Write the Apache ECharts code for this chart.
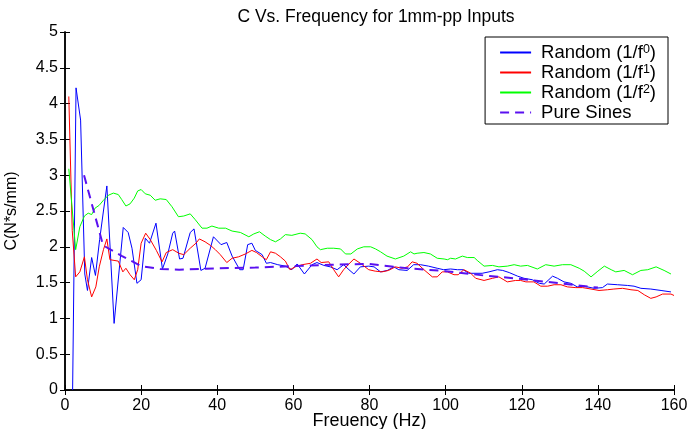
<!DOCTYPE html>
<html><head><meta charset="utf-8">
<script src="https://cdn.jsdelivr.net/npm/echarts@6/dist/echarts.min.js"></script>
<style>html,body{margin:0;padding:0;background:#fff}#c{width:689px;height:429px}</style>
</head><body><div id="c"></div>
<script>
const titleText = 'C Vs. Frequency for 1mm-pp Inputs';
const xName = 'Freuency (Hz)';
const yName = 'C(N*s/mm)';
const seriesNames = ['Random (1/f0)', 'Random (1/f1)', 'Random (1/f2)', 'Pure Sines'];
const legendBase = ['Random (1/f', 'Random (1/f', 'Random (1/f', 'Pure Sines'];
const legendSup = ['0', '1', '2', ''];
const xTicks = { min: 0, max: 160, interval: 20 };
const yTicks = { min: 0, max: 5, interval: 0.5 };

// [frequency (Hz), C]
const random0 = [[2.0,0],[2.9,4.22],[4.1,3.77],[5.2,1.62],[5.9,1.39],[7.0,1.85],[8.0,1.60],[9.1,2.1],[10.1,2.5],[11.0,2.85],[12.9,0.93],[15.3,2.27],[16.6,2.2],[17.6,1.98],[18.9,1.49],[20.0,1.54],[21.1,2.12],[22.2,2.05],[23.9,2.33],[25.6,1.69],[27.0,1.9],[28.3,2.19],[28.8,2.22],[30.1,1.83],[31.0,1.84],[32.9,2.2],[33.9,2.25],[35.7,1.67],[36.8,1.7],[39.0,2.14],[41.0,2.03],[42.5,2.06],[43.9,1.87],[45.9,1.68],[46.8,1.68],[48.0,2.03],[49.1,2.05],[50.0,1.95],[51.8,1.89],[52.9,1.77],[54.0,1.78],[55.9,1.75],[57.9,1.73],[59.6,1.68],[61.0,1.76],[62.9,1.62],[64.9,1.75],[66.2,1.78],[68.0,1.74],[69.7,1.72],[71.5,1.68],[73.2,1.75],[74.6,1.68],[75.9,1.62],[77.6,1.72],[79.8,1.73],[81.2,1.72],[82.9,1.65],[84.7,1.67],[86.4,1.72],[87.7,1.68],[89.9,1.67],[91.6,1.75],[93.4,1.75],[95.5,1.73],[97.8,1.70],[99.5,1.68],[101.3,1.69],[103.1,1.68],[104.6,1.68],[106.1,1.63],[109.6,1.63],[111.4,1.65],[113.6,1.68],[115.0,1.67],[116.7,1.64],[118.9,1.59],[120.6,1.56],[122.8,1.54],[124.6,1.49],[125.9,1.48],[128.1,1.59],[129.4,1.56],[131.1,1.51],[132.9,1.49],[134.6,1.44],[136.4,1.45],[139.0,1.42],[141.2,1.43],[142.5,1.48],[145.2,1.47],[147.8,1.46],[149.5,1.45],[151.3,1.42],[153.9,1.41],[156.6,1.39],[159.2,1.37]];

const random1 = [[1.0,4.1],[1.9,2.23],[2.8,1.58],[3.9,1.65],[5.1,1.86],[5.9,1.54],[7.0,1.30],[8.1,1.44],[9.0,1.72],[10.1,1.96],[11.0,2.11],[11.8,1.82],[14.0,1.80],[15.2,1.65],[16.0,1.70],[17.1,1.61],[18.2,1.54],[19.1,1.68],[20.0,2.05],[21.2,2.19],[22.4,2.10],[24.0,1.95],[25.5,1.79],[26.6,1.92],[28.3,1.96],[29.9,1.91],[31.2,1.89],[32.9,1.98],[34.4,2.05],[35.3,2.11],[36.8,2.07],[38.2,2.02],[39.5,1.96],[40.8,1.89],[42.5,1.78],[43.9,1.84],[45.6,1.86],[47.4,1.90],[49.1,1.95],[50.3,1.92],[51.8,1.86],[52.9,1.82],[54.0,1.93],[55.3,1.91],[56.6,1.86],[57.9,1.80],[59.1,1.68],[60.5,1.72],[62.3,1.75],[64.5,1.77],[66.2,1.83],[67.3,1.78],[69.3,1.79],[70.6,1.68],[71.9,1.58],[73.2,1.68],[74.6,1.76],[75.9,1.83],[77.6,1.77],[79.8,1.68],[81.5,1.66],[83.3,1.65],[85.0,1.67],[86.8,1.72],[88.6,1.70],[90.0,1.72],[91.2,1.79],[92.5,1.77],[94.3,1.68],[96.5,1.58],[97.8,1.58],[99.1,1.65],[100.5,1.65],[102.2,1.61],[103.3,1.61],[104.8,1.68],[106.6,1.63],[107.9,1.56],[110.1,1.53],[112.3,1.56],[114.0,1.58],[116.2,1.51],[118.4,1.53],[119.7,1.53],[121.1,1.51],[123.2,1.51],[125.0,1.45],[126.8,1.45],[128.5,1.47],[130.3,1.47],[132.0,1.44],[134.2,1.43],[136.0,1.43],[138.2,1.41],[140.3,1.39],[142.5,1.40],[144.2,1.41],[146.5,1.42],[148.7,1.40],[150.5,1.39],[152.2,1.33],[153.9,1.28],[155.3,1.30],[157.0,1.34],[159.2,1.34],[160.0,1.32]];

const random2 = [[1.0,3.09],[2.8,1.96],[3.9,2.28],[5.1,2.43],[6.1,2.47],[7.0,2.45],[7.9,2.54],[9.0,2.58],[10.1,2.65],[11.4,2.72],[12.7,2.75],[14.0,2.73],[14.9,2.66],[16.0,2.57],[17.1,2.60],[18.2,2.68],[19.1,2.78],[20.0,2.80],[21.1,2.74],[22.4,2.72],[23.7,2.65],[25.0,2.67],[26.6,2.66],[28.1,2.56],[29.8,2.42],[31.2,2.43],[32.9,2.46],[34.2,2.38],[36.0,2.26],[37.3,2.26],[38.6,2.29],[40.4,2.26],[42.2,2.26],[43.9,2.22],[46.1,2.20],[48.3,2.14],[49.6,2.18],[51.1,2.21],[52.6,2.15],[54.0,2.10],[55.3,2.07],[56.6,2.11],[57.9,2.17],[59.6,2.16],[61.8,2.19],[63.1,2.18],[64.9,2.10],[66.2,2.00],[67.1,1.96],[68.9,1.98],[70.6,1.98],[72.4,1.97],[73.7,1.90],[75.1,1.90],[76.8,1.97],[78.5,2.00],[80.3,2.00],[81.6,1.97],[82.9,1.93],[84.6,1.87],[86.8,1.83],[89.0,1.87],[90.8,1.93],[91.7,1.90],[92.5,1.91],[94.3,1.92],[96.0,1.90],[97.8,1.84],[99.6,1.83],[100.5,1.82],[101.3,1.84],[102.6,1.83],[104.4,1.87],[105.7,1.85],[107.5,1.85],[108.3,1.81],[110.1,1.73],[112.3,1.74],[114.0,1.72],[116.2,1.73],[118.0,1.75],[119.7,1.73],[121.5,1.74],[124.1,1.69],[126.3,1.75],[128.5,1.73],[130.7,1.75],[132.9,1.75],[135.1,1.70],[136.4,1.66],[138.2,1.58],[140.0,1.66],[141.7,1.73],[143.5,1.68],[144.7,1.65],[146.9,1.67],[149.1,1.61],[151.3,1.67],[153.1,1.68],[155.3,1.72],[157.4,1.67],[159.2,1.62]];

const pureSines = [[5,3.0],[10,2.02],[15,1.87],[20,1.73],[25,1.69],[30,1.68],[40,1.70],[50,1.71],[60,1.73],[70,1.75],[80,1.76],[90,1.70],[100,1.66],[110,1.60],[120,1.55],[130,1.49],[140,1.43]];

const seriesData = [random0, random1, random2, pureSines];
const colors = ['#0000ff', '#ff0000', '#00ff00', '#5a10f0'];
const FONT = 'Liberation Sans';

const chart = echarts.init(document.getElementById('c'), null, { renderer: 'canvas' });
const axisCommon = {
  axisLine: { lineStyle: { color: '#000', width: 1.5 } },
  axisTick: { inside: true, length: 5, lineStyle: { color: '#000', width: 1 } },
  splitLine: { show: false },
  axisLabel: { color: '#000', fontFamily: FONT, fontSize: 16 }
};
chart.setOption({
  animation: false,
  backgroundColor: '#fff',
  title: {
    text: titleText, left: 371, top: 3, textAlign: 'center',
    textStyle: { fontFamily: FONT, fontSize: 17.5, fontWeight: 'normal', color: '#000' }
  },
  grid: { left: 65, right: 15, top: 32, bottom: 39, outerBoundsMode: 'none', containLabel: false },
  legend: {
    orient: 'vertical', right: 21, top: 37,
    data: seriesNames,
    itemWidth: 31, itemHeight: 14, itemGap: 1,
    padding: [6, 12, 2, 14],
    borderColor: '#000', borderWidth: 1, backgroundColor: '#fff',
    itemStyle: { opacity: 0 },
    formatter: function (name) {
      const i = seriesNames.indexOf(name);
      if (legendSup[i]) return '{g| }{a|' + legendBase[i] + '}{s|' + legendSup[i] + '}{a|)}';
      return '{g| }{a|' + legendBase[i] + '}';
    },
    textStyle: {
      color: '#000', fontFamily: FONT, fontSize: 18.5, lineHeight: 18,
      rich: {
        g: { width: 5, lineHeight: 18, fontSize: 12 },
        a: { fontFamily: FONT, fontSize: 18.5, lineHeight: 18, color: '#000' },
        s: { fontFamily: FONT, fontSize: 12.5, lineHeight: 12, verticalAlign: 'top', color: '#000' }
      }
    }
  },
  xAxis: [
    Object.assign({}, axisCommon, {
      type: 'value', position: 'bottom', min: xTicks.min, max: xTicks.max, interval: xTicks.interval,
      name: xName, nameLocation: 'middle', nameGap: 22, nameMoveOverlap: false,
      nameTextStyle: { fontFamily: FONT, fontSize: 18, color: '#000' },
      axisLabel: { color: '#000', fontFamily: FONT, fontSize: 16, margin: 8 }
    }),
    Object.assign({}, axisCommon, {
      type: 'value', position: 'top', min: xTicks.min, max: xTicks.max, interval: xTicks.interval,
      axisLabel: { show: false }
    })
  ],
  yAxis: [
    Object.assign({}, axisCommon, {
      type: 'value', position: 'left', min: yTicks.min, max: yTicks.max, interval: yTicks.interval,
      name: yName, nameLocation: 'middle', nameGap: 45, nameMoveOverlap: false,
      nameTextStyle: { fontFamily: FONT, fontSize: 16, color: '#000' },
      axisLabel: { color: '#000', fontFamily: FONT, fontSize: 16, margin: 7 }
    }),
    Object.assign({}, axisCommon, {
      type: 'value', position: 'right', min: yTicks.min, max: yTicks.max, interval: yTicks.interval,
      axisLabel: { show: false }
    })
  ],
  series: seriesData.map(function (d, i) {
    return {
      name: seriesNames[i], type: 'line', data: d, xAxisIndex: 0, yAxisIndex: 0,
      symbol: 'none', z: i === 3 ? 5 : 2 + i,
      lineStyle: i === 3 ? { color: colors[i], width: 2, type: [9, 6] } : { color: colors[i], width: 1 },
      itemStyle: { color: colors[i] }
    };
  })
});
</script></body></html>
